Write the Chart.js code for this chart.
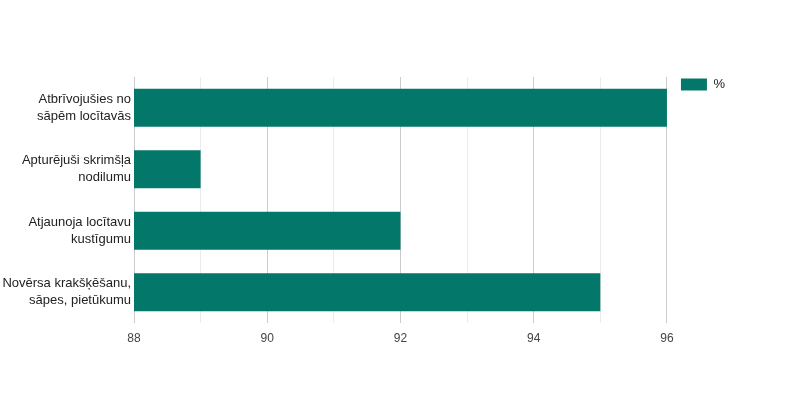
<!DOCTYPE html>
<html>
<head>
<meta charset="utf-8">
<script src="https://cdn.jsdelivr.net/npm/chart.js@4/dist/chart.umd.min.js"></script>
<style>
  html, body { margin: 0; padding: 0; background: #fff; }
  #wrap { width: 800px; height: 400px; }
</style>
</head>
<body>
<div id="wrap"><canvas id="resultChart"></canvas></div>
<script>
const categories = [
    ['Atbrīvojušies no', 'sāpēm locītavās'],
    ['Apturējuši skrimšļa', 'nodilumu'],
    ['Atjaunoja locītavu', 'kustīgumu'],
    ['Novērsa krakšķēšanu,', 'sāpes, pietūkumu']
];
const seriesName = '%';
const percentValues = [96, 89, 92, 95];
const axisMin = 88;
const axisMax = 96;

// legend sits a bit away from the plot, like in the original
const legendNudge = {
    id: 'legendNudge',
    afterLayout: function (chart) {
        chart.legend.left += 10;
        chart.legend.right += 10;
        chart.legend.top -= 3;
        chart.legend.bottom -= 3;
    }
};

document.addEventListener("DOMContentLoaded", function () {
    const ctx = document.getElementById('resultChart').getContext('2d');
    new Chart(ctx, {
        type: 'bar',
        data: {
            labels: categories,
            datasets: [{
                label: seriesName,
                data: percentValues,
                backgroundColor: '#03786a',
                barPercentage: 0.62,
                categoryPercentage: 1.0
            }]
        },
        options: {
            indexAxis: 'y',
            responsive: true,
            maintainAspectRatio: false,
            animation: false,
            layout: {
                padding: { left: 0, right: 75, top: 77, bottom: 53 }
            },
            plugins: {
                legend: {
                    position: 'right',
                    align: 'start',
                    labels: {
                        boxWidth: 26,
                        boxHeight: 12,
                        padding: 4,
                        color: '#222',
                        font: { family: 'Liberation Sans', size: 13 }
                    }
                },
                tooltip: { enabled: false }
            },
            scales: {
                x: {
                    min: axisMin,
                    max: axisMax,
                    border: { display: false },
                    grid: {
                        drawTicks: false,
                        color: function (c) {
                            return c.tick && c.tick.value % 2 === 0 ? '#cccccc' : '#ebebeb';
                        }
                    },
                    ticks: {
                        stepSize: 1,
                        padding: 8,
                        color: '#444',
                        font: { family: 'Liberation Sans', size: 12 },
                        callback: function (v) { return v % 2 === 0 ? v : ''; }
                    },
                    afterFit: function (scale) { scale.height = 24; }
                },
                y: {
                    border: { display: false },
                    grid: { display: false, drawTicks: false },
                    ticks: {
                        padding: 3,
                        color: '#222',
                        font: { family: 'Liberation Sans', size: 13, lineHeight: 1.3 }
                    },
                    afterFit: function (scale) { scale.width = 134; }
                }
            }
        },
        plugins: [legendNudge]
    });
});
</script>
</body>
</html>
